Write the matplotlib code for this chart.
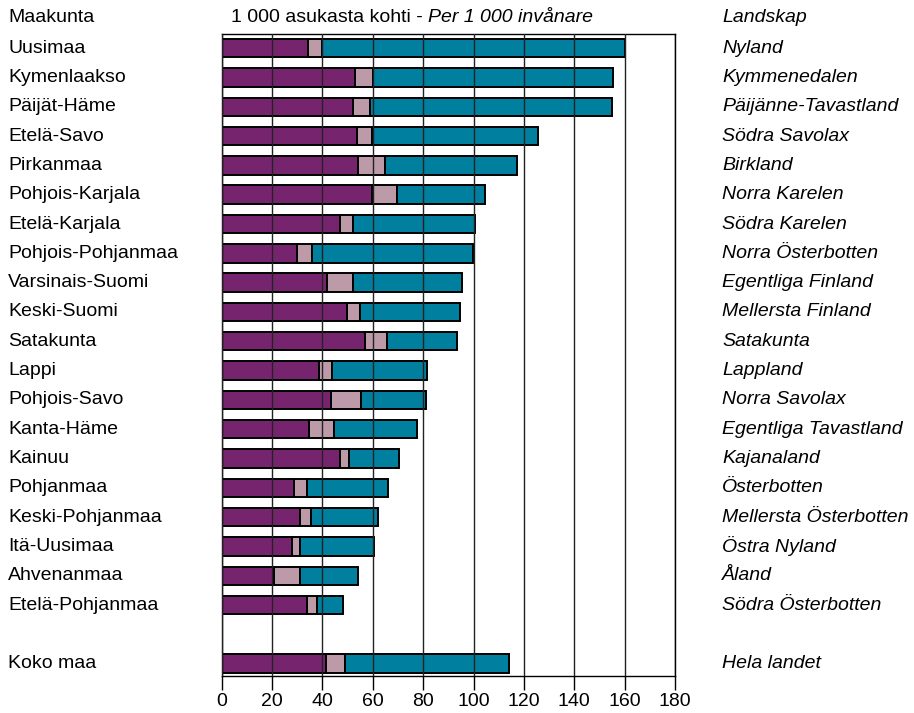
import numpy as np
import matplotlib
matplotlib.use("Agg")
import matplotlib.pyplot as plt
from matplotlib.transforms import blended_transform_factory

# ── data ──────────────────────────────────────────────
regions_fi = ["Uusimaa", "Kymenlaakso", "Päijät-Häme", "Etelä-Savo", "Pirkanmaa",
              "Pohjois-Karjala", "Etelä-Karjala", "Pohjois-Pohjanmaa", "Varsinais-Suomi",
              "Keski-Suomi", "Satakunta", "Lappi", "Pohjois-Savo", "Kanta-Häme", "Kainuu",
              "Pohjanmaa", "Keski-Pohjanmaa", "Itä-Uusimaa", "Ahvenanmaa",
              "Etelä-Pohjanmaa", "Koko maa"]
regions_sv = ["Nyland", "Kymmenedalen", "Päijänne-Tavastland", "Södra Savolax", "Birkland",
              "Norra Karelen", "Södra Karelen", "Norra Österbotten", "Egentliga Finland",
              "Mellersta Finland", "Satakunta", "Lappland", "Norra Savolax",
              "Egentliga Tavastland", "Kajanaland", "Österbotten", "Mellersta Österbotten",
              "Östra Nyland", "Åland", "Södra Österbotten", "Hela landet"]
seg_purple = [34.2, 53.0, 52.2, 53.8, 54.3, 59.7, 46.8, 29.8, 41.8, 49.8, 57.0,
              38.8, 43.3, 34.6, 46.8, 28.5, 30.9, 28.0, 20.9, 33.9, 41.6]
seg_pink = [5.8, 6.9, 6.8, 5.9, 10.7, 10.0, 5.4, 6.0, 10.4, 5.2, 8.8,
            5.1, 12.0, 9.8, 3.8, 5.4, 4.5, 2.9, 10.0, 4.0, 7.4]
seg_teal = [120.1, 95.5, 96.1, 65.7, 52.3, 35.0, 48.2, 63.9, 43.1, 39.5, 27.8,
            37.8, 25.8, 33.2, 19.8, 32.3, 26.5, 29.4, 23.2, 10.3, 64.9]
xticks = [0, 20, 40, 60, 80, 100, 120, 140, 160, 180]

# rows 0..19, empty row, then total
ypos = list(range(20)) + [21]

plt.rcParams["font.family"] = ["Liberation Sans", "DejaVu Sans"]
FS = 14

fig = plt.figure(figsize=(9.14, 7.13), dpi=100)
ax = fig.add_axes([0.2426, 0.0515, 0.4959, 0.9015])

c_purple = "#77246F"
c_pink = "#BC9AA8"
c_teal = "#007F9E"

left = np.zeros(len(ypos))
for vals, col in [(seg_purple, c_purple), (seg_pink, c_pink), (seg_teal, c_teal)]:
    ax.barh(ypos, vals, left=left, height=0.63, color=col,
            edgecolor="black", linewidth=1.4, zorder=1)
    left = left + np.array(vals)

ax.set_xlim(0, 180)
ax.set_ylim(21.43, -0.5)
ax.set_yticks([])
ax.set_xticks(xticks)
ax.set_xticklabels([str(t) for t in xticks], fontsize=FS)
ax.tick_params(axis="x", length=10, width=1, pad=2, color="black")

ax.set_axisbelow(False)
ax.grid(axis="x", color="#222222", linewidth=1.0)
for s in ax.spines.values():
    s.set_linewidth(1.0)
    s.set_color("black")

# labels on both sides
tr = blended_transform_factory(fig.transFigure, ax.transData)
for y, fi, sv in zip(ypos, regions_fi, regions_sv):
    ax.text(0.009, y, fi, transform=tr, fontsize=FS, va="center", ha="left")
    ax.text(0.790, y, sv, transform=tr, fontsize=FS, va="center", ha="left",
            style="italic")

# header
fig.text(0.009, 0.976, "Maakunta", fontsize=FS, va="center", ha="left")
fig.text(0.2524, 0.976, "1 000 asukasta kohti - ", fontsize=FS, va="center", ha="left")
t = fig.text(0.2524, 0.976, "1 000 asukasta kohti - ", fontsize=FS, va="center",
             ha="left", alpha=0)
fig.canvas.draw()
bb = t.get_window_extent().transformed(fig.transFigure.inverted())
fig.text(bb.x1, 0.976, "Per 1 000 invånare", fontsize=FS, va="center", ha="left",
         style="italic")
fig.text(0.790, 0.976, "Landskap", fontsize=FS, va="center", ha="left", style="italic")

fig.savefig("out.png", dpi=100)
plt.close(fig)
